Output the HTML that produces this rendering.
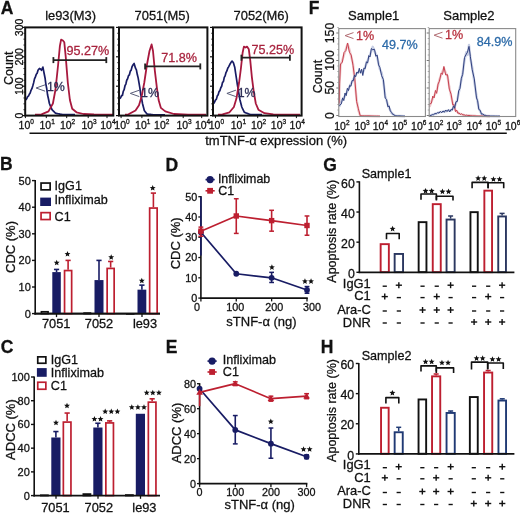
<!DOCTYPE html>
<html><head><meta charset="utf-8"><title>Figure</title>
<style>
html,body{margin:0;padding:0;background:#fff;width:520px;height:514px;overflow:hidden;}
svg{display:block;font-family:"Liberation Sans", sans-serif;will-change:transform;}
text{stroke-width:0.28px;}
</style></head>
<body>
<svg width="520" height="514" viewBox="0 0 520 514">
<rect width="520" height="514" fill="#fff"/>
<text x="0.80" y="13.60" font-size="17.5" text-anchor="start" fill="#111" stroke="#111" font-weight="bold">A</text>
<text x="-0.08" y="170.40" font-size="17.5" text-anchor="start" fill="#111" stroke="#111" font-weight="bold">B</text>
<text x="0.65" y="352.50" font-size="17.5" text-anchor="start" fill="#111" stroke="#111" font-weight="bold">C</text>
<text x="165.42" y="170.60" font-size="17.5" text-anchor="start" fill="#111" stroke="#111" font-weight="bold">D</text>
<text x="165.72" y="353.00" font-size="17.5" text-anchor="start" fill="#111" stroke="#111" font-weight="bold">E</text>
<text x="308.82" y="13.60" font-size="17.5" text-anchor="start" fill="#111" stroke="#111" font-weight="bold">F</text>
<text x="323.15" y="170.60" font-size="17.5" text-anchor="start" fill="#111" stroke="#111" font-weight="bold">G</text>
<text x="320.82" y="353.00" font-size="17.5" text-anchor="start" fill="#111" stroke="#111" font-weight="bold">H</text>
<text x="70.60" y="19.50" font-size="12.9" text-anchor="middle" fill="#111" stroke="#111">le93(M3)</text>
<text x="162.20" y="19.50" font-size="12.9" text-anchor="middle" fill="#111" stroke="#111">7051(M5)</text>
<text x="261.20" y="19.50" font-size="12.9" text-anchor="middle" fill="#111" stroke="#111">7052(M6)</text>
<line x1="22.20" y1="115.60" x2="25.20" y2="115.60" stroke="#111" stroke-width="1.2"/>
<line x1="23.40" y1="109.72" x2="25.20" y2="109.72" stroke="#111" stroke-width="0.8"/>
<line x1="23.40" y1="103.84" x2="25.20" y2="103.84" stroke="#111" stroke-width="0.8"/>
<line x1="23.40" y1="97.96" x2="25.20" y2="97.96" stroke="#111" stroke-width="0.8"/>
<line x1="23.40" y1="92.08" x2="25.20" y2="92.08" stroke="#111" stroke-width="0.8"/>
<line x1="22.20" y1="86.20" x2="25.20" y2="86.20" stroke="#111" stroke-width="1.2"/>
<line x1="23.40" y1="80.32" x2="25.20" y2="80.32" stroke="#111" stroke-width="0.8"/>
<line x1="23.40" y1="74.44" x2="25.20" y2="74.44" stroke="#111" stroke-width="0.8"/>
<line x1="23.40" y1="68.56" x2="25.20" y2="68.56" stroke="#111" stroke-width="0.8"/>
<line x1="23.40" y1="62.68" x2="25.20" y2="62.68" stroke="#111" stroke-width="0.8"/>
<line x1="22.20" y1="56.80" x2="25.20" y2="56.80" stroke="#111" stroke-width="1.2"/>
<line x1="23.40" y1="50.92" x2="25.20" y2="50.92" stroke="#111" stroke-width="0.8"/>
<line x1="23.40" y1="45.04" x2="25.20" y2="45.04" stroke="#111" stroke-width="0.8"/>
<line x1="23.40" y1="39.16" x2="25.20" y2="39.16" stroke="#111" stroke-width="0.8"/>
<line x1="23.40" y1="33.28" x2="25.20" y2="33.28" stroke="#111" stroke-width="0.8"/>
<line x1="22.20" y1="27.40" x2="25.20" y2="27.40" stroke="#111" stroke-width="1.2"/>
<line x1="116.00" y1="115.60" x2="119.00" y2="115.60" stroke="#111" stroke-width="1.2"/>
<line x1="117.20" y1="109.72" x2="119.00" y2="109.72" stroke="#111" stroke-width="0.8"/>
<line x1="117.20" y1="103.84" x2="119.00" y2="103.84" stroke="#111" stroke-width="0.8"/>
<line x1="117.20" y1="97.96" x2="119.00" y2="97.96" stroke="#111" stroke-width="0.8"/>
<line x1="117.20" y1="92.08" x2="119.00" y2="92.08" stroke="#111" stroke-width="0.8"/>
<line x1="116.00" y1="86.20" x2="119.00" y2="86.20" stroke="#111" stroke-width="1.2"/>
<line x1="117.20" y1="80.32" x2="119.00" y2="80.32" stroke="#111" stroke-width="0.8"/>
<line x1="117.20" y1="74.44" x2="119.00" y2="74.44" stroke="#111" stroke-width="0.8"/>
<line x1="117.20" y1="68.56" x2="119.00" y2="68.56" stroke="#111" stroke-width="0.8"/>
<line x1="117.20" y1="62.68" x2="119.00" y2="62.68" stroke="#111" stroke-width="0.8"/>
<line x1="116.00" y1="56.80" x2="119.00" y2="56.80" stroke="#111" stroke-width="1.2"/>
<line x1="117.20" y1="50.92" x2="119.00" y2="50.92" stroke="#111" stroke-width="0.8"/>
<line x1="117.20" y1="45.04" x2="119.00" y2="45.04" stroke="#111" stroke-width="0.8"/>
<line x1="117.20" y1="39.16" x2="119.00" y2="39.16" stroke="#111" stroke-width="0.8"/>
<line x1="117.20" y1="33.28" x2="119.00" y2="33.28" stroke="#111" stroke-width="0.8"/>
<line x1="116.00" y1="27.40" x2="119.00" y2="27.40" stroke="#111" stroke-width="1.2"/>
<line x1="210.00" y1="115.60" x2="213.00" y2="115.60" stroke="#111" stroke-width="1.2"/>
<line x1="211.20" y1="109.72" x2="213.00" y2="109.72" stroke="#111" stroke-width="0.8"/>
<line x1="211.20" y1="103.84" x2="213.00" y2="103.84" stroke="#111" stroke-width="0.8"/>
<line x1="211.20" y1="97.96" x2="213.00" y2="97.96" stroke="#111" stroke-width="0.8"/>
<line x1="211.20" y1="92.08" x2="213.00" y2="92.08" stroke="#111" stroke-width="0.8"/>
<line x1="210.00" y1="86.20" x2="213.00" y2="86.20" stroke="#111" stroke-width="1.2"/>
<line x1="211.20" y1="80.32" x2="213.00" y2="80.32" stroke="#111" stroke-width="0.8"/>
<line x1="211.20" y1="74.44" x2="213.00" y2="74.44" stroke="#111" stroke-width="0.8"/>
<line x1="211.20" y1="68.56" x2="213.00" y2="68.56" stroke="#111" stroke-width="0.8"/>
<line x1="211.20" y1="62.68" x2="213.00" y2="62.68" stroke="#111" stroke-width="0.8"/>
<line x1="210.00" y1="56.80" x2="213.00" y2="56.80" stroke="#111" stroke-width="1.2"/>
<line x1="211.20" y1="50.92" x2="213.00" y2="50.92" stroke="#111" stroke-width="0.8"/>
<line x1="211.20" y1="45.04" x2="213.00" y2="45.04" stroke="#111" stroke-width="0.8"/>
<line x1="211.20" y1="39.16" x2="213.00" y2="39.16" stroke="#111" stroke-width="0.8"/>
<line x1="211.20" y1="33.28" x2="213.00" y2="33.28" stroke="#111" stroke-width="0.8"/>
<line x1="210.00" y1="27.40" x2="213.00" y2="27.40" stroke="#111" stroke-width="1.2"/>
<text transform="translate(22.60,115.60) rotate(-90)" font-size="10.5" text-anchor="middle" fill="#111" stroke="#111">0</text>
<text transform="translate(22.60,86.20) rotate(-90)" font-size="10.5" text-anchor="middle" fill="#111" stroke="#111">100</text>
<text transform="translate(22.60,56.80) rotate(-90)" font-size="10.5" text-anchor="middle" fill="#111" stroke="#111">200</text>
<text transform="translate(22.60,27.40) rotate(-90)" font-size="10.5" text-anchor="middle" fill="#111" stroke="#111">300</text>
<text transform="translate(13.00,68.30) rotate(-90)" font-size="12.5" text-anchor="middle" fill="#111" stroke="#111">Count</text>
<polyline points="25.75,100.00 26.64,98.84 27.52,96.81 28.41,96.17 29.30,94.32 30.16,92.93 31.02,90.35 31.89,88.66 32.75,85.97 33.62,82.89 34.50,78.94 35.40,76.88 36.30,74.22 37.15,73.19 38.00,70.19 39.40,68.40 40.50,69.04 41.50,70.25 42.90,67.08 44.10,73.26 45.00,77.72 45.90,84.34 46.75,88.78 47.60,95.06 48.50,99.02 49.40,103.50 50.27,105.57 51.13,107.63 52.00,109.70 52.88,110.58 53.75,111.45 54.62,112.33 55.50,113.20 56.38,113.38 57.25,113.55 58.12,113.72 59.00,113.90 59.88,114.08 60.75,114.25 61.62,114.42 62.50,114.60 63.33,114.60 64.17,114.60 65.00,114.60 65.83,114.60 66.67,114.60 67.50,114.60 68.33,114.60 69.17,114.60 70.00,114.60 70.83,114.60 71.67,114.60 72.50,114.60 73.33,114.60 74.17,114.60 75.00,114.60" fill="none" stroke="#181c64" stroke-width="1.7" stroke-linejoin="round"/>
<polyline points="119.75,98.76 120.63,97.77 121.52,95.67 122.40,95.49 123.27,91.35 124.13,89.72 125.00,85.72 125.87,84.03 126.73,80.27 127.60,78.72 128.50,75.72 129.40,74.82 130.30,71.15 131.17,70.09 132.03,66.74 132.90,65.05 134.10,63.47 135.50,68.18 136.40,69.81 137.30,74.54 138.15,77.89 139.00,82.85 139.90,88.05 140.80,94.82 141.65,98.73 142.50,103.50 143.40,107.00 144.30,110.50 145.17,111.67 146.03,112.83 146.90,114.00 147.77,114.11 148.64,114.23 149.51,114.34 150.39,114.46 151.26,114.57 152.13,114.69 153.00,114.80 153.80,114.80 154.60,114.80 155.40,114.80 156.20,114.80 157.00,114.80 157.80,114.80 158.60,114.80 159.40,114.80 160.20,114.80 161.00,114.80 161.80,114.80 162.60,114.80 163.40,114.80 164.20,114.80 165.00,114.80" fill="none" stroke="#181c64" stroke-width="1.7" stroke-linejoin="round"/>
<polyline points="213.75,103.50 214.64,101.75 215.53,100.00 216.41,99.11 217.30,95.88 218.18,94.79 219.05,91.59 219.93,90.58 220.80,87.75 221.67,86.28 222.53,82.43 223.40,81.59 224.27,77.45 225.13,75.89 226.00,72.54 226.87,70.96 227.73,68.26 228.60,66.86 229.75,64.54 230.90,62.59 232.10,61.05 233.40,62.71 234.80,67.55 235.65,73.30 236.50,78.86 237.40,84.79 238.30,90.07 239.15,95.22 240.00,100.00 240.90,103.50 241.80,107.00 242.67,108.77 243.53,110.53 244.40,112.30 245.27,112.63 246.14,112.96 247.01,113.29 247.89,113.61 248.76,113.94 249.63,114.27 250.50,114.60 251.32,114.60 252.14,114.60 252.96,114.60 253.79,114.60 254.61,114.60 255.43,114.60 256.25,114.60 257.07,114.60 257.89,114.60 258.71,114.60 259.54,114.60 260.36,114.60 261.18,114.60 262.00,114.60" fill="none" stroke="#181c64" stroke-width="1.7" stroke-linejoin="round"/>
<polyline points="35.00,114.60 41.50,114.30 48.50,111.40 52.90,103.50 55.50,89.50 58.10,65.00 59.90,45.80 61.10,39.60 62.90,40.50 64.30,42.30 65.70,56.30 67.80,82.50 69.90,100.00 72.20,108.80 76.50,112.30 83.50,114.00 94.00,114.40 113.00,114.60" fill="none" stroke="#a8193e" stroke-width="1.8" stroke-linejoin="round"/>
<polyline points="125.00,114.60 128.50,114.30 135.50,110.50 139.00,105.30 141.60,96.50 144.30,82.50 146.90,65.00 149.50,51.00 151.60,44.40 153.00,51.00 154.80,70.30 156.90,87.80 158.60,100.00 160.90,107.90 165.30,111.40 174.00,114.00 188.00,114.60 206.00,114.60" fill="none" stroke="#a8193e" stroke-width="1.8" stroke-linejoin="round"/>
<polyline points="218.00,114.60 222.50,114.30 229.50,112.30 233.90,107.00 236.50,98.30 239.10,82.50 240.90,68.50 242.60,52.80 243.90,46.60 245.60,47.50 247.00,46.60 248.80,49.30 250.20,59.80 251.90,77.30 253.70,91.30 255.80,103.50 258.40,109.70 264.50,113.20 273.30,114.40 282.00,114.60 300.00,114.60" fill="none" stroke="#a8193e" stroke-width="1.8" stroke-linejoin="round"/>
<rect x="25.20" y="27.40" width="88.10" height="88.20" fill="none" stroke="#111" stroke-width="2"/>
<rect x="119.00" y="27.40" width="88.40" height="88.20" fill="none" stroke="#111" stroke-width="2"/>
<rect x="213.00" y="27.40" width="88.60" height="88.20" fill="none" stroke="#111" stroke-width="2"/>
<line x1="53.40" y1="60.10" x2="106.30" y2="60.10" stroke="#222" stroke-width="1.8"/>
<line x1="53.40" y1="57.10" x2="53.40" y2="63.10" stroke="#222" stroke-width="1.8"/>
<line x1="106.30" y1="57.10" x2="106.30" y2="63.10" stroke="#222" stroke-width="1.8"/>
<line x1="145.10" y1="66.40" x2="200.30" y2="66.40" stroke="#222" stroke-width="1.8"/>
<line x1="145.10" y1="63.40" x2="145.10" y2="69.40" stroke="#222" stroke-width="1.8"/>
<line x1="200.30" y1="63.40" x2="200.30" y2="69.40" stroke="#222" stroke-width="1.8"/>
<line x1="241.40" y1="57.70" x2="289.90" y2="57.70" stroke="#222" stroke-width="1.8"/>
<line x1="241.40" y1="54.70" x2="241.40" y2="60.70" stroke="#222" stroke-width="1.8"/>
<line x1="289.90" y1="54.70" x2="289.90" y2="60.70" stroke="#222" stroke-width="1.8"/>
<text x="66.60" y="55.40" font-size="12.6" text-anchor="start" fill="#a8233e" stroke="#a8233e">95.27%</text>
<text x="161.20" y="62.40" font-size="12.6" text-anchor="start" fill="#a8233e" stroke="#a8233e">71.8%</text>
<text x="251.60" y="54.20" font-size="12.6" text-anchor="start" fill="#a8233e" stroke="#a8233e">75.25%</text>
<polyline points="45.10,84.80 36.10,88.00 45.10,91.20" fill="none" stroke="#5a5e7a" stroke-width="1.0" stroke-linejoin="round" stroke-linejoin="miter"/>
<text x="46.90" y="91.30" font-size="12.4" text-anchor="start" fill="#2b2d55" stroke="#2b2d55">1%</text>
<polyline points="139.30,90.20 130.30,93.40 139.30,96.60" fill="none" stroke="#5a5e7a" stroke-width="1.0" stroke-linejoin="round" stroke-linejoin="miter"/>
<text x="141.10" y="96.70" font-size="12.4" text-anchor="start" fill="#2b2d55" stroke="#2b2d55">1%</text>
<polyline points="235.90,90.20 226.90,93.40 235.90,96.60" fill="none" stroke="#5a5e7a" stroke-width="1.0" stroke-linejoin="round" stroke-linejoin="miter"/>
<text x="237.70" y="96.70" font-size="12.4" text-anchor="start" fill="#2b2d55" stroke="#2b2d55">1%</text>
<text x="18.60" y="128.60" font-size="10.5" fill="#111" stroke="#111">10<tspan font-size="6.51" dy="-4.41">0</tspan></text>
<text x="39.50" y="128.60" font-size="10.5" fill="#111" stroke="#111">10<tspan font-size="6.51" dy="-4.41">1</tspan></text>
<text x="59.90" y="128.60" font-size="10.5" fill="#111" stroke="#111">10<tspan font-size="6.51" dy="-4.41">2</tspan></text>
<text x="81.40" y="128.60" font-size="10.5" fill="#111" stroke="#111">10<tspan font-size="6.51" dy="-4.41">3</tspan></text>
<text x="100.20" y="128.60" font-size="10.5" fill="#111" stroke="#111">10<tspan font-size="6.51" dy="-4.41">4</tspan></text>
<text x="114.30" y="128.60" font-size="10.5" fill="#111" stroke="#111">10<tspan font-size="6.51" dy="-4.41">0</tspan></text>
<text x="135.10" y="128.60" font-size="10.5" fill="#111" stroke="#111">10<tspan font-size="6.51" dy="-4.41">1</tspan></text>
<text x="154.10" y="128.60" font-size="10.5" fill="#111" stroke="#111">10<tspan font-size="6.51" dy="-4.41">2</tspan></text>
<text x="176.40" y="128.60" font-size="10.5" fill="#111" stroke="#111">10<tspan font-size="6.51" dy="-4.41">3</tspan></text>
<text x="194.90" y="128.60" font-size="10.5" fill="#111" stroke="#111">10<tspan font-size="6.51" dy="-4.41">4</tspan></text>
<text x="208.70" y="128.60" font-size="10.5" fill="#111" stroke="#111">10<tspan font-size="6.51" dy="-4.41">0</tspan></text>
<text x="230.70" y="128.60" font-size="10.5" fill="#111" stroke="#111">10<tspan font-size="6.51" dy="-4.41">1</tspan></text>
<text x="250.90" y="128.60" font-size="10.5" fill="#111" stroke="#111">10<tspan font-size="6.51" dy="-4.41">2</tspan></text>
<text x="270.80" y="128.60" font-size="10.5" fill="#111" stroke="#111">10<tspan font-size="6.51" dy="-4.41">3</tspan></text>
<text x="289.60" y="128.60" font-size="10.5" fill="#111" stroke="#111">10<tspan font-size="6.51" dy="-4.41">4</tspan></text>
<line x1="25.40" y1="115.60" x2="25.40" y2="118.10" stroke="#111" stroke-width="1"/>
<line x1="46.30" y1="115.60" x2="46.30" y2="118.10" stroke="#111" stroke-width="1"/>
<line x1="66.70" y1="115.60" x2="66.70" y2="118.10" stroke="#111" stroke-width="1"/>
<line x1="88.20" y1="115.60" x2="88.20" y2="118.10" stroke="#111" stroke-width="1"/>
<line x1="107.00" y1="115.60" x2="107.00" y2="118.10" stroke="#111" stroke-width="1"/>
<line x1="121.10" y1="115.60" x2="121.10" y2="118.10" stroke="#111" stroke-width="1"/>
<line x1="141.90" y1="115.60" x2="141.90" y2="118.10" stroke="#111" stroke-width="1"/>
<line x1="160.90" y1="115.60" x2="160.90" y2="118.10" stroke="#111" stroke-width="1"/>
<line x1="183.20" y1="115.60" x2="183.20" y2="118.10" stroke="#111" stroke-width="1"/>
<line x1="201.70" y1="115.60" x2="201.70" y2="118.10" stroke="#111" stroke-width="1"/>
<line x1="215.50" y1="115.60" x2="215.50" y2="118.10" stroke="#111" stroke-width="1"/>
<line x1="237.50" y1="115.60" x2="237.50" y2="118.10" stroke="#111" stroke-width="1"/>
<line x1="257.70" y1="115.60" x2="257.70" y2="118.10" stroke="#111" stroke-width="1"/>
<line x1="277.60" y1="115.60" x2="277.60" y2="118.10" stroke="#111" stroke-width="1"/>
<line x1="296.40" y1="115.60" x2="296.40" y2="118.10" stroke="#111" stroke-width="1"/>
<text x="373.70" y="20.20" font-size="13.0" text-anchor="middle" fill="#111" stroke="#111">Sample1</text>
<text x="468.90" y="20.20" font-size="13.0" text-anchor="middle" fill="#111" stroke="#111">Sample2</text>
<line x1="336.30" y1="115.50" x2="338.80" y2="115.50" stroke="#777" stroke-width="1"/>
<line x1="337.30" y1="110.00" x2="338.80" y2="110.00" stroke="#999" stroke-width="0.8"/>
<line x1="337.30" y1="104.50" x2="338.80" y2="104.50" stroke="#999" stroke-width="0.8"/>
<line x1="337.30" y1="99.00" x2="338.80" y2="99.00" stroke="#999" stroke-width="0.8"/>
<line x1="337.30" y1="93.50" x2="338.80" y2="93.50" stroke="#999" stroke-width="0.8"/>
<line x1="336.30" y1="88.00" x2="338.80" y2="88.00" stroke="#777" stroke-width="1"/>
<line x1="337.30" y1="82.50" x2="338.80" y2="82.50" stroke="#999" stroke-width="0.8"/>
<line x1="337.30" y1="77.00" x2="338.80" y2="77.00" stroke="#999" stroke-width="0.8"/>
<line x1="337.30" y1="71.50" x2="338.80" y2="71.50" stroke="#999" stroke-width="0.8"/>
<line x1="337.30" y1="66.00" x2="338.80" y2="66.00" stroke="#999" stroke-width="0.8"/>
<line x1="336.30" y1="60.50" x2="338.80" y2="60.50" stroke="#777" stroke-width="1"/>
<line x1="337.30" y1="55.00" x2="338.80" y2="55.00" stroke="#999" stroke-width="0.8"/>
<line x1="337.30" y1="49.50" x2="338.80" y2="49.50" stroke="#999" stroke-width="0.8"/>
<line x1="337.30" y1="44.00" x2="338.80" y2="44.00" stroke="#999" stroke-width="0.8"/>
<line x1="337.30" y1="38.50" x2="338.80" y2="38.50" stroke="#999" stroke-width="0.8"/>
<line x1="336.30" y1="33.00" x2="338.80" y2="33.00" stroke="#777" stroke-width="1"/>
<line x1="337.30" y1="27.50" x2="338.80" y2="27.50" stroke="#999" stroke-width="0.8"/>
<line x1="426.70" y1="115.50" x2="429.20" y2="115.50" stroke="#777" stroke-width="1"/>
<line x1="427.70" y1="110.00" x2="429.20" y2="110.00" stroke="#999" stroke-width="0.8"/>
<line x1="427.70" y1="104.50" x2="429.20" y2="104.50" stroke="#999" stroke-width="0.8"/>
<line x1="427.70" y1="99.00" x2="429.20" y2="99.00" stroke="#999" stroke-width="0.8"/>
<line x1="427.70" y1="93.50" x2="429.20" y2="93.50" stroke="#999" stroke-width="0.8"/>
<line x1="426.70" y1="88.00" x2="429.20" y2="88.00" stroke="#777" stroke-width="1"/>
<line x1="427.70" y1="82.50" x2="429.20" y2="82.50" stroke="#999" stroke-width="0.8"/>
<line x1="427.70" y1="77.00" x2="429.20" y2="77.00" stroke="#999" stroke-width="0.8"/>
<line x1="427.70" y1="71.50" x2="429.20" y2="71.50" stroke="#999" stroke-width="0.8"/>
<line x1="427.70" y1="66.00" x2="429.20" y2="66.00" stroke="#999" stroke-width="0.8"/>
<line x1="426.70" y1="60.50" x2="429.20" y2="60.50" stroke="#777" stroke-width="1"/>
<line x1="427.70" y1="55.00" x2="429.20" y2="55.00" stroke="#999" stroke-width="0.8"/>
<line x1="427.70" y1="49.50" x2="429.20" y2="49.50" stroke="#999" stroke-width="0.8"/>
<line x1="427.70" y1="44.00" x2="429.20" y2="44.00" stroke="#999" stroke-width="0.8"/>
<line x1="427.70" y1="38.50" x2="429.20" y2="38.50" stroke="#999" stroke-width="0.8"/>
<line x1="426.70" y1="33.00" x2="429.20" y2="33.00" stroke="#777" stroke-width="1"/>
<line x1="427.70" y1="27.50" x2="429.20" y2="27.50" stroke="#999" stroke-width="0.8"/>
<text transform="translate(334.20,115.50) rotate(-90)" font-size="12.2" text-anchor="middle" fill="#111" stroke="#111">0</text>
<text transform="translate(334.20,87.80) rotate(-90)" font-size="12.2" text-anchor="middle" fill="#111" stroke="#111">50</text>
<text transform="translate(334.20,60.50) rotate(-90)" font-size="12.2" text-anchor="middle" fill="#111" stroke="#111">100</text>
<text transform="translate(334.20,33.00) rotate(-90)" font-size="12.2" text-anchor="middle" fill="#111" stroke="#111">150</text>
<text transform="translate(321.50,76.50) rotate(-90)" font-size="12.5" text-anchor="middle" fill="#111" stroke="#111">Count</text>
<polyline points="339.20,105.00 339.60,81.70 340.50,65.60 342.30,60.20 344.00,54.80 345.80,49.50 347.60,44.10 349.40,49.50 351.20,56.60 353.00,63.80 354.80,81.70 356.60,99.60 358.40,110.30 360.20,115.70 380.00,116.20" fill="none" stroke="#d88890" stroke-width="2.4" stroke-linejoin="round" stroke-opacity="0.45"/>
<polyline points="339.20,103.49 339.60,83.81 340.50,63.83 342.30,62.43 344.00,52.53 345.80,50.68 347.60,43.02 349.40,52.18 351.20,55.04 353.00,65.31 354.80,78.71 356.60,101.57 358.40,108.77 360.20,115.76 361.30,115.67 362.40,115.79 363.50,115.73 364.60,115.86 365.70,115.81 366.80,115.90 367.90,115.87 369.00,115.93 370.10,115.94 371.20,115.98 372.30,116.01 373.40,116.03 374.50,116.08 375.60,116.07 376.70,116.15 377.80,116.10 378.90,116.21 380.00,116.20" fill="none" stroke="#c8404e" stroke-width="1.0" stroke-linejoin="round"/>
<polyline points="429.60,106.80 431.40,101.40 434.10,96.00 436.70,90.60 439.40,79.90 441.20,74.50 443.90,68.30 445.70,72.70 447.50,76.30 449.30,87.10 451.10,96.00 452.80,103.20 455.50,110.30 459.10,113.60 465.40,115.30 476.10,116.00 490.00,116.20" fill="none" stroke="#d88890" stroke-width="2.4" stroke-linejoin="round" stroke-opacity="0.45"/>
<polyline points="429.60,104.18 431.40,103.22 432.75,96.09 434.10,97.92 435.40,90.43 436.70,93.36 438.05,84.01 439.40,81.22 441.20,73.03 442.55,74.33 443.90,66.40 445.70,74.97 447.50,74.66 449.30,89.14 451.10,94.20 452.80,104.93 454.15,104.72 455.50,111.55 456.70,110.11 457.90,113.33 459.10,112.91 460.36,114.50 461.62,113.77 462.88,114.95 464.14,114.82 465.40,115.49 466.59,115.20 467.78,115.61 468.97,115.43 470.16,115.71 471.34,115.64 472.53,115.83 473.72,115.81 474.91,115.93 476.10,116.00 477.26,116.01 478.42,116.04 479.58,116.04 480.73,116.08 481.89,116.07 483.05,116.11 484.21,116.10 485.37,116.17 486.52,116.11 487.68,116.19 488.84,116.14 490.00,116.20" fill="none" stroke="#c8404e" stroke-width="1.0" stroke-linejoin="round"/>
<polyline points="339.20,106.80 341.40,101.40 345.00,96.00 348.50,88.90 352.10,81.70 355.70,74.50 359.30,71.00 362.80,72.70 366.40,63.80 370.00,54.80 372.70,46.80 374.50,51.30 377.20,57.50 379.90,69.20 381.60,72.70 383.40,81.70 385.20,96.00 387.90,105.00 391.50,113.00 395.10,115.70 405.00,116.20" fill="none" stroke="#8090c0" stroke-width="2.4" stroke-linejoin="round" stroke-opacity="0.45"/>
<polyline points="339.20,105.75 341.40,103.85 342.60,97.90 343.80,100.57 345.00,93.04 346.17,95.67 347.33,88.27 348.50,90.55 349.70,85.30 350.90,86.32 352.10,80.59 353.30,80.73 354.50,75.05 355.70,76.74 356.90,71.98 358.10,73.30 359.30,68.26 360.47,73.23 361.63,69.21 362.80,75.50 364.00,67.95 365.20,68.71 366.40,61.74 367.60,63.11 368.80,55.59 370.00,56.94 371.35,48.54 372.70,49.68 374.50,49.26 375.85,56.29 377.20,55.05 378.55,64.86 379.90,67.56 381.60,75.66 383.40,79.63 385.20,98.12 386.55,99.43 387.90,106.86 389.10,105.85 390.30,110.95 391.50,112.32 392.70,114.38 393.90,114.66 395.10,115.77 396.34,115.72 397.58,115.87 398.81,115.87 400.05,115.96 401.29,116.02 402.52,116.07 403.76,116.15 405.00,116.20" fill="none" stroke="#30407f" stroke-width="1.0" stroke-linejoin="round"/>
<polyline points="429.60,115.70 435.00,113.90 440.30,112.10 445.70,111.20 451.10,110.30 454.60,106.80 457.30,99.60 460.00,87.10 462.70,72.70 464.50,60.20 466.30,52.20 467.50,54.80 469.00,45.00 470.40,58.40 472.20,67.40 474.30,81.70 476.50,96.00 478.80,108.50 481.50,113.90 486.90,116.00 500.00,116.20" fill="none" stroke="#8090c0" stroke-width="2.4" stroke-linejoin="round" stroke-opacity="0.45"/>
<polyline points="429.60,115.63 430.95,115.47 432.30,114.62 433.65,114.67 435.00,113.44 436.32,113.88 437.65,112.47 438.98,113.12 440.30,111.41 441.65,112.79 443.00,110.94 444.35,112.24 445.70,109.97 447.05,111.53 448.40,109.62 449.75,111.88 451.10,109.36 452.27,110.15 453.43,105.86 454.60,108.19 455.95,101.78 457.30,101.50 458.65,90.94 460.00,88.35 461.35,78.22 462.70,74.40 464.50,57.52 466.30,54.10 467.50,52.08 469.00,46.38 470.40,56.69 472.20,69.72 474.30,78.92 476.50,97.93 477.65,100.76 478.80,109.46 480.15,110.20 481.50,114.20 482.85,114.01 484.20,115.23 485.55,115.40 486.90,116.00 488.09,116.02 489.28,116.03 490.47,116.07 491.66,116.06 492.85,116.10 494.05,116.09 495.24,116.16 496.43,116.12 497.62,116.19 498.81,116.15 500.00,116.20" fill="none" stroke="#30407f" stroke-width="1.0" stroke-linejoin="round"/>
<rect x="338.80" y="28.60" width="86.60" height="87.90" fill="none" stroke="#8a8a8a" stroke-width="1.1"/>
<rect x="429.20" y="28.60" width="86.50" height="87.90" fill="none" stroke="#8a8a8a" stroke-width="1.1"/>
<polyline points="353.50,32.60 345.10,35.60 353.50,38.60" fill="none" stroke="#b06a70" stroke-width="1.0" stroke-linejoin="round" stroke-linejoin="miter"/>
<text x="356.00" y="39.50" font-size="12.6" text-anchor="start" fill="#b8323f" stroke="#b8323f">1%</text>
<polyline points="442.50,32.20 434.10,35.20 442.50,38.20" fill="none" stroke="#b06a70" stroke-width="1.0" stroke-linejoin="round" stroke-linejoin="miter"/>
<text x="445.00" y="39.10" font-size="12.6" text-anchor="start" fill="#b8323f" stroke="#b8323f">1%</text>
<text x="382.00" y="48.60" font-size="12.6" text-anchor="start" fill="#2c6aa8" stroke="#2c6aa8">49.7%</text>
<text x="476.80" y="46.00" font-size="12.6" text-anchor="start" fill="#2c6aa8" stroke="#2c6aa8">84.9%</text>
<text x="334.20" y="129.60" font-size="10.5" fill="#111" stroke="#111">10<tspan font-size="6.51" dy="-4.41">2</tspan></text>
<text x="354.40" y="129.60" font-size="10.5" fill="#111" stroke="#111">10<tspan font-size="6.51" dy="-4.41">3</tspan></text>
<text x="372.70" y="129.60" font-size="10.5" fill="#111" stroke="#111">10<tspan font-size="6.51" dy="-4.41">4</tspan></text>
<text x="391.90" y="129.60" font-size="10.5" fill="#111" stroke="#111">10<tspan font-size="6.51" dy="-4.41">5</tspan></text>
<text x="411.10" y="129.60" font-size="10.5" fill="#111" stroke="#111">10<tspan font-size="6.51" dy="-4.41">6</tspan></text>
<text x="428.10" y="129.60" font-size="10.5" fill="#111" stroke="#111">10<tspan font-size="6.51" dy="-4.41">2</tspan></text>
<text x="446.30" y="129.60" font-size="10.5" fill="#111" stroke="#111">10<tspan font-size="6.51" dy="-4.41">3</tspan></text>
<text x="466.50" y="129.60" font-size="10.5" fill="#111" stroke="#111">10<tspan font-size="6.51" dy="-4.41">4</tspan></text>
<text x="485.70" y="129.60" font-size="10.5" fill="#111" stroke="#111">10<tspan font-size="6.51" dy="-4.41">5</tspan></text>
<text x="505.00" y="129.60" font-size="10.5" fill="#111" stroke="#111">10<tspan font-size="6.51" dy="-4.41">6</tspan></text>
<line x1="29.50" y1="133.20" x2="506.80" y2="133.20" stroke="#111" stroke-width="1.6"/>
<text x="205.20" y="145.40" font-size="13.0" text-anchor="start" fill="#111" stroke="#111">tmTNF-α expression (%)</text>
<line x1="35.20" y1="314.40" x2="35.20" y2="180.00" stroke="#111" stroke-width="1.6"/>
<line x1="32.00" y1="313.60" x2="35.20" y2="313.60" stroke="#111" stroke-width="1.4"/>
<text x="30.80" y="317.56" font-size="11" text-anchor="end" fill="#111" stroke="#111">0</text>
<line x1="32.00" y1="287.00" x2="35.20" y2="287.00" stroke="#111" stroke-width="1.4"/>
<text x="30.80" y="290.96" font-size="11" text-anchor="end" fill="#111" stroke="#111">10</text>
<line x1="32.00" y1="260.40" x2="35.20" y2="260.40" stroke="#111" stroke-width="1.4"/>
<text x="30.80" y="264.36" font-size="11" text-anchor="end" fill="#111" stroke="#111">20</text>
<line x1="32.00" y1="233.80" x2="35.20" y2="233.80" stroke="#111" stroke-width="1.4"/>
<text x="30.80" y="237.76" font-size="11" text-anchor="end" fill="#111" stroke="#111">30</text>
<line x1="32.00" y1="207.20" x2="35.20" y2="207.20" stroke="#111" stroke-width="1.4"/>
<text x="30.80" y="211.16" font-size="11" text-anchor="end" fill="#111" stroke="#111">40</text>
<line x1="32.00" y1="180.60" x2="35.20" y2="180.60" stroke="#111" stroke-width="1.4"/>
<text x="30.80" y="184.56" font-size="11" text-anchor="end" fill="#111" stroke="#111">50</text>
<line x1="34.40" y1="313.60" x2="160.00" y2="313.60" stroke="#111" stroke-width="1.6"/>
<line x1="56.50" y1="313.60" x2="56.50" y2="317.10" stroke="#111" stroke-width="1.3"/>
<line x1="99.00" y1="313.60" x2="99.00" y2="317.10" stroke="#111" stroke-width="1.3"/>
<line x1="142.00" y1="313.60" x2="142.00" y2="317.10" stroke="#111" stroke-width="1.3"/>
<rect x="41.40" y="311.74" width="6.70" height="1.86" fill="#fff" stroke="#111" stroke-width="1.6"/>
<line x1="56.55" y1="272.10" x2="56.55" y2="269.44" stroke="#181c64" stroke-width="1.6"/>
<line x1="53.95" y1="269.44" x2="59.15" y2="269.44" stroke="#181c64" stroke-width="1.6"/>
<rect x="52.30" y="272.10" width="8.50" height="41.50" fill="#181c64"/>
<line x1="68.10" y1="269.71" x2="68.10" y2="260.40" stroke="#bd1f30" stroke-width="1.6"/>
<line x1="65.50" y1="260.40" x2="70.70" y2="260.40" stroke="#bd1f30" stroke-width="1.6"/>
<rect x="64.55" y="270.56" width="7.10" height="42.99" fill="#fff" stroke="#bd1f30" stroke-width="1.7"/>
<rect x="84.10" y="313.07" width="6.40" height="0.53" fill="#fff" stroke="#111" stroke-width="1.6"/>
<line x1="99.00" y1="280.08" x2="99.00" y2="260.40" stroke="#181c64" stroke-width="1.6"/>
<line x1="96.40" y1="260.40" x2="101.60" y2="260.40" stroke="#181c64" stroke-width="1.6"/>
<rect x="94.50" y="280.08" width="9.00" height="33.52" fill="#181c64"/>
<line x1="110.65" y1="267.58" x2="110.65" y2="261.46" stroke="#bd1f30" stroke-width="1.6"/>
<line x1="108.05" y1="261.46" x2="113.25" y2="261.46" stroke="#bd1f30" stroke-width="1.6"/>
<rect x="107.15" y="268.43" width="7.00" height="45.12" fill="#fff" stroke="#bd1f30" stroke-width="1.7"/>
<rect x="126.80" y="313.87" width="6.90" height="0.10" fill="#fff" stroke="#111" stroke-width="1.6"/>
<line x1="141.90" y1="289.66" x2="141.90" y2="285.14" stroke="#181c64" stroke-width="1.6"/>
<line x1="139.30" y1="285.14" x2="144.50" y2="285.14" stroke="#181c64" stroke-width="1.6"/>
<rect x="137.50" y="289.66" width="8.80" height="23.94" fill="#181c64"/>
<line x1="153.40" y1="207.20" x2="153.40" y2="193.10" stroke="#bd1f30" stroke-width="1.6"/>
<line x1="150.80" y1="193.10" x2="156.00" y2="193.10" stroke="#bd1f30" stroke-width="1.6"/>
<rect x="149.65" y="208.05" width="7.50" height="105.50" fill="#fff" stroke="#bd1f30" stroke-width="1.7"/>
<line x1="34.40" y1="313.60" x2="160.00" y2="313.60" stroke="#111" stroke-width="1.6"/>
<polygon points="56.70,259.70 57.52,261.67 59.65,261.84 58.03,263.23 58.52,265.31 56.70,264.19 54.88,265.31 55.37,263.23 53.75,261.84 55.88,261.67" fill="#111"/>
<polygon points="67.50,251.00 68.32,252.97 70.45,253.14 68.83,254.53 69.32,256.61 67.50,255.50 65.68,256.61 66.17,254.53 64.55,253.14 66.68,252.97" fill="#111"/>
<polygon points="111.20,254.20 112.02,256.17 114.15,256.34 112.53,257.73 113.02,259.81 111.20,258.69 109.38,259.81 109.87,257.73 108.25,256.34 110.38,256.17" fill="#111"/>
<polygon points="141.80,277.70 142.62,279.67 144.75,279.84 143.13,281.23 143.62,283.31 141.80,282.19 139.98,283.31 140.47,281.23 138.85,279.84 140.98,279.67" fill="#111"/>
<polygon points="152.70,185.00 153.52,186.97 155.65,187.14 154.03,188.53 154.52,190.61 152.70,189.50 150.88,190.61 151.37,188.53 149.75,187.14 151.88,186.97" fill="#111"/>
<text x="56.20" y="328.00" font-size="12.8" text-anchor="middle" fill="#111" stroke="#111">7051</text>
<text x="99.00" y="328.00" font-size="12.8" text-anchor="middle" fill="#111" stroke="#111">7052</text>
<text x="145.00" y="328.00" font-size="12.8" text-anchor="middle" fill="#111" stroke="#111">le93</text>
<text transform="translate(14.60,247.00) rotate(-90)" font-size="13" text-anchor="middle" fill="#111" stroke="#111">CDC (%)</text>
<rect x="41.05" y="183.05" width="9.10" height="6.80" fill="#fff" stroke="#111" stroke-width="1.7"/>
<rect x="40.20" y="197.60" width="10.80" height="8.40" fill="#181c64"/>
<rect x="41.05" y="212.65" width="9.10" height="6.90" fill="#fff" stroke="#bd1f30" stroke-width="1.7"/>
<text x="54.60" y="190.40" font-size="12.6" text-anchor="start" fill="#111" stroke="#111">IgG1</text>
<text x="54.60" y="204.30" font-size="12.6" text-anchor="start" fill="#111" stroke="#111">Infliximab</text>
<text x="54.60" y="220.80" font-size="12.6" text-anchor="start" fill="#111" stroke="#111">C1</text>
<line x1="34.20" y1="496.40" x2="34.20" y2="376.40" stroke="#111" stroke-width="1.6"/>
<line x1="31.00" y1="495.60" x2="34.20" y2="495.60" stroke="#111" stroke-width="1.4"/>
<text x="29.80" y="499.56" font-size="11" text-anchor="end" fill="#111" stroke="#111">0</text>
<line x1="31.00" y1="471.88" x2="34.20" y2="471.88" stroke="#111" stroke-width="1.4"/>
<text x="29.80" y="475.84" font-size="11" text-anchor="end" fill="#111" stroke="#111">20</text>
<line x1="31.00" y1="448.16" x2="34.20" y2="448.16" stroke="#111" stroke-width="1.4"/>
<text x="29.80" y="452.12" font-size="11" text-anchor="end" fill="#111" stroke="#111">40</text>
<line x1="31.00" y1="424.44" x2="34.20" y2="424.44" stroke="#111" stroke-width="1.4"/>
<text x="29.80" y="428.40" font-size="11" text-anchor="end" fill="#111" stroke="#111">60</text>
<line x1="31.00" y1="400.72" x2="34.20" y2="400.72" stroke="#111" stroke-width="1.4"/>
<text x="29.80" y="404.68" font-size="11" text-anchor="end" fill="#111" stroke="#111">80</text>
<line x1="31.00" y1="377.00" x2="34.20" y2="377.00" stroke="#111" stroke-width="1.4"/>
<text x="29.80" y="380.96" font-size="11" text-anchor="end" fill="#111" stroke="#111">100</text>
<rect x="40.80" y="495.21" width="7.20" height="0.39" fill="#fff" stroke="#111" stroke-width="1.6"/>
<line x1="55.90" y1="437.49" x2="55.90" y2="431.56" stroke="#181c64" stroke-width="1.6"/>
<line x1="53.30" y1="431.56" x2="58.50" y2="431.56" stroke="#181c64" stroke-width="1.6"/>
<rect x="51.30" y="437.49" width="9.20" height="58.11" fill="#181c64"/>
<line x1="67.15" y1="421.24" x2="67.15" y2="413.05" stroke="#bd1f30" stroke-width="1.6"/>
<line x1="64.55" y1="413.05" x2="69.75" y2="413.05" stroke="#bd1f30" stroke-width="1.6"/>
<rect x="63.35" y="422.09" width="7.60" height="73.46" fill="#fff" stroke="#bd1f30" stroke-width="1.7"/>
<rect x="83.30" y="494.03" width="7.20" height="1.57" fill="#fff" stroke="#111" stroke-width="1.6"/>
<line x1="97.90" y1="427.52" x2="97.90" y2="423.25" stroke="#181c64" stroke-width="1.6"/>
<line x1="95.30" y1="423.25" x2="100.50" y2="423.25" stroke="#181c64" stroke-width="1.6"/>
<rect x="93.30" y="427.52" width="9.20" height="68.08" fill="#181c64"/>
<line x1="109.65" y1="422.07" x2="109.65" y2="420.88" stroke="#bd1f30" stroke-width="1.6"/>
<line x1="107.05" y1="420.88" x2="112.25" y2="420.88" stroke="#bd1f30" stroke-width="1.6"/>
<rect x="105.85" y="422.92" width="7.60" height="72.63" fill="#fff" stroke="#bd1f30" stroke-width="1.7"/>
<rect x="125.80" y="494.98" width="7.20" height="0.62" fill="#fff" stroke="#111" stroke-width="1.6"/>
<rect x="135.80" y="413.77" width="9.20" height="81.83" fill="#181c64"/>
<line x1="152.15" y1="401.31" x2="152.15" y2="398.82" stroke="#bd1f30" stroke-width="1.6"/>
<line x1="149.55" y1="398.82" x2="154.75" y2="398.82" stroke="#bd1f30" stroke-width="1.6"/>
<rect x="148.35" y="402.16" width="7.60" height="93.39" fill="#fff" stroke="#bd1f30" stroke-width="1.7"/>
<line x1="33.40" y1="495.60" x2="160.00" y2="495.60" stroke="#111" stroke-width="1.6"/>
<line x1="56.00" y1="495.60" x2="56.00" y2="498.80" stroke="#111" stroke-width="1.3"/>
<line x1="98.00" y1="495.60" x2="98.00" y2="498.80" stroke="#111" stroke-width="1.3"/>
<line x1="140.50" y1="495.60" x2="140.50" y2="498.80" stroke="#111" stroke-width="1.3"/>
<polygon points="56.00,419.70 56.82,421.67 58.95,421.84 57.33,423.23 57.82,425.31 56.00,424.19 54.18,425.31 54.67,423.23 53.05,421.84 55.18,421.67" fill="#111"/>
<polygon points="67.00,402.70 67.82,404.67 69.95,404.84 68.33,406.23 68.82,408.31 67.00,407.19 65.18,408.31 65.67,406.23 64.05,404.84 66.18,404.67" fill="#111"/>
<polygon points="94.45,416.00 95.27,417.97 97.40,418.14 95.78,419.53 96.27,421.61 94.45,420.50 92.63,421.61 93.12,419.53 91.50,418.14 93.63,417.97" fill="#111"/>
<polygon points="100.55,416.00 101.37,417.97 103.50,418.14 101.88,419.53 102.37,421.61 100.55,420.50 98.73,421.61 99.22,419.53 97.60,418.14 99.73,417.97" fill="#111"/>
<polygon points="105.20,408.50 106.02,410.47 108.15,410.64 106.53,412.03 107.02,414.11 105.20,413.00 103.38,414.11 103.87,412.03 102.25,410.64 104.38,410.47" fill="#111"/>
<polygon points="111.30,408.50 112.12,410.47 114.25,410.64 112.63,412.03 113.12,414.11 111.30,413.00 109.48,414.11 109.97,412.03 108.35,410.64 110.48,410.47" fill="#111"/>
<polygon points="117.40,408.50 118.22,410.47 120.35,410.64 118.73,412.03 119.22,414.11 117.40,413.00 115.58,414.11 116.07,412.03 114.45,410.64 116.58,410.47" fill="#111"/>
<polygon points="131.80,404.20 132.62,406.17 134.75,406.34 133.13,407.73 133.62,409.81 131.80,408.69 129.98,409.81 130.47,407.73 128.85,406.34 130.98,406.17" fill="#111"/>
<polygon points="137.90,404.20 138.72,406.17 140.85,406.34 139.23,407.73 139.72,409.81 137.90,408.69 136.08,409.81 136.57,407.73 134.95,406.34 137.08,406.17" fill="#111"/>
<polygon points="144.00,404.20 144.82,406.17 146.95,406.34 145.33,407.73 145.82,409.81 144.00,408.69 142.18,409.81 142.67,407.73 141.05,406.34 143.18,406.17" fill="#111"/>
<polygon points="146.70,389.70 147.52,391.67 149.65,391.84 148.03,393.23 148.52,395.31 146.70,394.19 144.88,395.31 145.37,393.23 143.75,391.84 145.88,391.67" fill="#111"/>
<polygon points="152.80,389.70 153.62,391.67 155.75,391.84 154.13,393.23 154.62,395.31 152.80,394.19 150.98,395.31 151.47,393.23 149.85,391.84 151.98,391.67" fill="#111"/>
<polygon points="158.90,389.70 159.72,391.67 161.85,391.84 160.23,393.23 160.72,395.31 158.90,394.19 157.08,395.31 157.57,393.23 155.95,391.84 158.08,391.67" fill="#111"/>
<text x="55.40" y="512.00" font-size="12.8" text-anchor="middle" fill="#111" stroke="#111">7051</text>
<text x="98.80" y="512.00" font-size="12.8" text-anchor="middle" fill="#111" stroke="#111">7052</text>
<text x="144.40" y="512.00" font-size="12.8" text-anchor="middle" fill="#111" stroke="#111">le93</text>
<text transform="translate(14.60,429.60) rotate(-90)" font-size="13" text-anchor="middle" fill="#111" stroke="#111">ADCC (%)</text>
<rect x="37.75" y="356.85" width="8.10" height="6.40" fill="#fff" stroke="#111" stroke-width="1.7"/>
<rect x="36.90" y="368.10" width="9.80" height="8.70" fill="#181c64"/>
<rect x="37.75" y="382.25" width="8.10" height="7.00" fill="#fff" stroke="#bd1f30" stroke-width="1.7"/>
<text x="50.80" y="364.10" font-size="12.6" text-anchor="start" fill="#111" stroke="#111">IgG1</text>
<text x="50.80" y="376.80" font-size="12.6" text-anchor="start" fill="#111" stroke="#111">Infliximab</text>
<text x="50.80" y="389.50" font-size="12.6" text-anchor="start" fill="#111" stroke="#111">C1</text>
<line x1="200.90" y1="298.90" x2="200.90" y2="196.10" stroke="#111" stroke-width="1.6"/>
<line x1="200.10" y1="298.10" x2="307.80" y2="298.10" stroke="#111" stroke-width="1.6"/>
<line x1="198.30" y1="298.10" x2="200.90" y2="298.10" stroke="#111" stroke-width="1.3"/>
<text x="197.30" y="302.00" font-size="10.8" text-anchor="end" fill="#111" stroke="#111">0</text>
<line x1="198.30" y1="277.82" x2="200.90" y2="277.82" stroke="#111" stroke-width="1.3"/>
<text x="197.30" y="281.72" font-size="10.8" text-anchor="end" fill="#111" stroke="#111">10</text>
<line x1="198.30" y1="257.54" x2="200.90" y2="257.54" stroke="#111" stroke-width="1.3"/>
<text x="197.30" y="261.44" font-size="10.8" text-anchor="end" fill="#111" stroke="#111">20</text>
<line x1="198.30" y1="237.26" x2="200.90" y2="237.26" stroke="#111" stroke-width="1.3"/>
<text x="197.30" y="241.16" font-size="10.8" text-anchor="end" fill="#111" stroke="#111">30</text>
<line x1="198.30" y1="216.98" x2="200.90" y2="216.98" stroke="#111" stroke-width="1.3"/>
<text x="197.30" y="220.88" font-size="10.8" text-anchor="end" fill="#111" stroke="#111">40</text>
<line x1="198.30" y1="196.70" x2="200.90" y2="196.70" stroke="#111" stroke-width="1.3"/>
<text x="197.30" y="200.60" font-size="10.8" text-anchor="end" fill="#111" stroke="#111">50</text>
<line x1="200.90" y1="298.10" x2="200.90" y2="301.40" stroke="#111" stroke-width="1.3"/>
<text x="197.00" y="311.20" font-size="10.8" text-anchor="middle" fill="#111" stroke="#111">0</text>
<line x1="236.27" y1="298.10" x2="236.27" y2="301.40" stroke="#111" stroke-width="1.3"/>
<text x="235.30" y="311.20" font-size="10.8" text-anchor="middle" fill="#111" stroke="#111">100</text>
<line x1="271.63" y1="298.10" x2="271.63" y2="301.40" stroke="#111" stroke-width="1.3"/>
<text x="274.20" y="311.20" font-size="10.8" text-anchor="middle" fill="#111" stroke="#111">200</text>
<line x1="307.00" y1="298.10" x2="307.00" y2="301.40" stroke="#111" stroke-width="1.3"/>
<text x="311.90" y="311.20" font-size="10.8" text-anchor="middle" fill="#111" stroke="#111">300</text>
<line x1="200.90" y1="255.51" x2="200.90" y2="196.70" stroke="#181c64" stroke-width="1.6"/>
<polyline points="200.90,232.19 236.27,273.76 271.63,277.82 307.00,289.99" fill="none" stroke="#181c64" stroke-width="1.7" stroke-linejoin="round"/>
<line x1="271.63" y1="282.48" x2="271.63" y2="272.34" stroke="#181c64" stroke-width="1.6"/>
<line x1="269.23" y1="282.48" x2="274.03" y2="282.48" stroke="#181c64" stroke-width="1.5"/>
<line x1="269.23" y1="272.34" x2="274.03" y2="272.34" stroke="#181c64" stroke-width="1.5"/>
<line x1="307.00" y1="293.23" x2="307.00" y2="286.54" stroke="#181c64" stroke-width="1.6"/>
<line x1="304.60" y1="293.23" x2="309.40" y2="293.23" stroke="#181c64" stroke-width="1.5"/>
<line x1="304.60" y1="286.54" x2="309.40" y2="286.54" stroke="#181c64" stroke-width="1.5"/>
<circle cx="200.90" cy="232.19" r="2.9" fill="#181c64"/>
<circle cx="236.27" cy="273.76" r="2.9" fill="#181c64"/>
<circle cx="271.63" cy="277.82" r="2.9" fill="#181c64"/>
<circle cx="307.00" cy="289.99" r="2.9" fill="#181c64"/>
<polyline points="200.90,231.18 236.27,215.97 271.63,220.63 307.00,225.50" fill="none" stroke="#bd1f30" stroke-width="1.7" stroke-linejoin="round"/>
<line x1="200.90" y1="236.25" x2="200.90" y2="227.12" stroke="#bd1f30" stroke-width="1.6"/>
<line x1="198.50" y1="236.25" x2="203.30" y2="236.25" stroke="#bd1f30" stroke-width="1.5"/>
<line x1="198.50" y1="227.12" x2="203.30" y2="227.12" stroke="#bd1f30" stroke-width="1.5"/>
<line x1="236.27" y1="233.41" x2="236.27" y2="198.73" stroke="#bd1f30" stroke-width="1.6"/>
<line x1="233.87" y1="233.41" x2="238.67" y2="233.41" stroke="#bd1f30" stroke-width="1.5"/>
<line x1="233.87" y1="198.73" x2="238.67" y2="198.73" stroke="#bd1f30" stroke-width="1.5"/>
<line x1="271.63" y1="231.18" x2="271.63" y2="210.29" stroke="#bd1f30" stroke-width="1.6"/>
<line x1="269.23" y1="231.18" x2="274.03" y2="231.18" stroke="#bd1f30" stroke-width="1.5"/>
<line x1="269.23" y1="210.29" x2="274.03" y2="210.29" stroke="#bd1f30" stroke-width="1.5"/>
<line x1="307.00" y1="235.23" x2="307.00" y2="215.97" stroke="#bd1f30" stroke-width="1.6"/>
<line x1="304.60" y1="235.23" x2="309.40" y2="235.23" stroke="#bd1f30" stroke-width="1.5"/>
<line x1="304.60" y1="215.97" x2="309.40" y2="215.97" stroke="#bd1f30" stroke-width="1.5"/>
<rect x="198.20" y="228.48" width="5.4" height="5.4" fill="#bd1f30"/>
<rect x="233.57" y="213.27" width="5.4" height="5.4" fill="#bd1f30"/>
<rect x="268.93" y="217.93" width="5.4" height="5.4" fill="#bd1f30"/>
<rect x="304.30" y="222.80" width="5.4" height="5.4" fill="#bd1f30"/>
<polygon points="271.90,264.30 272.72,266.27 274.85,266.44 273.23,267.83 273.72,269.91 271.90,268.80 270.08,269.91 270.57,267.83 268.95,266.44 271.08,266.27" fill="#111"/>
<polygon points="304.95,278.30 305.77,280.27 307.90,280.44 306.28,281.83 306.77,283.91 304.95,282.80 303.13,283.91 303.62,281.83 302.00,280.44 304.13,280.27" fill="#111"/>
<polygon points="311.05,278.30 311.87,280.27 314.00,280.44 312.38,281.83 312.87,283.91 311.05,282.80 309.23,283.91 309.72,281.83 308.10,280.44 310.23,280.27" fill="#111"/>
<text x="261.50" y="326.40" font-size="13" text-anchor="middle" fill="#111" stroke="#111">sTNF-α (ng)</text>
<text transform="translate(179.50,243.30) rotate(-90)" font-size="13" text-anchor="middle" fill="#111" stroke="#111">CDC (%)</text>
<line x1="205.50" y1="179.60" x2="214.70" y2="179.60" stroke="#181c64" stroke-width="1.6"/>
<circle cx="210.1" cy="179.6" r="3.6" fill="#181c64"/>
<line x1="205.50" y1="190.80" x2="214.70" y2="190.80" stroke="#bd1f30" stroke-width="1.6"/>
<rect x="207.2" y="187.9" width="5.8" height="5.8" fill="#bd1f30"/>
<text x="217.90" y="182.90" font-size="12.4" text-anchor="start" fill="#111" stroke="#111">Infliximab</text>
<text x="218.20" y="194.60" font-size="12.4" text-anchor="start" fill="#111" stroke="#111">C1</text>
<line x1="199.60" y1="484.40" x2="199.60" y2="383.10" stroke="#111" stroke-width="1.6"/>
<line x1="198.80" y1="483.60" x2="307.40" y2="483.60" stroke="#111" stroke-width="1.6"/>
<line x1="197.00" y1="483.60" x2="199.60" y2="483.60" stroke="#111" stroke-width="1.3"/>
<text x="196.00" y="488.10" font-size="10.8" text-anchor="end" fill="#111" stroke="#111">0</text>
<line x1="197.00" y1="458.62" x2="199.60" y2="458.62" stroke="#111" stroke-width="1.3"/>
<text x="196.00" y="463.12" font-size="10.8" text-anchor="end" fill="#111" stroke="#111">20</text>
<line x1="197.00" y1="433.65" x2="199.60" y2="433.65" stroke="#111" stroke-width="1.3"/>
<text x="196.00" y="438.15" font-size="10.8" text-anchor="end" fill="#111" stroke="#111">40</text>
<line x1="197.00" y1="408.68" x2="199.60" y2="408.68" stroke="#111" stroke-width="1.3"/>
<text x="196.00" y="413.18" font-size="10.8" text-anchor="end" fill="#111" stroke="#111">60</text>
<line x1="197.00" y1="383.70" x2="199.60" y2="383.70" stroke="#111" stroke-width="1.3"/>
<text x="196.00" y="388.20" font-size="10.8" text-anchor="end" fill="#111" stroke="#111">80</text>
<line x1="199.60" y1="483.60" x2="199.60" y2="486.90" stroke="#111" stroke-width="1.3"/>
<text x="199.60" y="496.40" font-size="10.8" text-anchor="middle" fill="#111" stroke="#111">0</text>
<line x1="235.27" y1="483.60" x2="235.27" y2="486.90" stroke="#111" stroke-width="1.3"/>
<text x="235.27" y="496.40" font-size="10.8" text-anchor="middle" fill="#111" stroke="#111">100</text>
<line x1="270.93" y1="483.60" x2="270.93" y2="486.90" stroke="#111" stroke-width="1.3"/>
<text x="270.93" y="496.40" font-size="10.8" text-anchor="middle" fill="#111" stroke="#111">200</text>
<line x1="306.60" y1="483.60" x2="306.60" y2="486.90" stroke="#111" stroke-width="1.3"/>
<text x="306.60" y="496.40" font-size="10.8" text-anchor="middle" fill="#111" stroke="#111">300</text>
<line x1="199.60" y1="406.18" x2="199.60" y2="392.44" stroke="#bd1f30" stroke-width="1.6"/>
<polyline points="199.60,388.69 235.27,429.90 270.93,443.64 306.60,456.75" fill="none" stroke="#181c64" stroke-width="1.7" stroke-linejoin="round"/>
<line x1="235.27" y1="443.89" x2="235.27" y2="415.54" stroke="#181c64" stroke-width="1.6"/>
<line x1="232.87" y1="443.89" x2="237.67" y2="443.89" stroke="#181c64" stroke-width="1.5"/>
<line x1="232.87" y1="415.54" x2="237.67" y2="415.54" stroke="#181c64" stroke-width="1.5"/>
<line x1="270.93" y1="458.25" x2="270.93" y2="428.03" stroke="#181c64" stroke-width="1.6"/>
<line x1="268.53" y1="458.25" x2="273.33" y2="458.25" stroke="#181c64" stroke-width="1.5"/>
<line x1="268.53" y1="428.03" x2="273.33" y2="428.03" stroke="#181c64" stroke-width="1.5"/>
<line x1="306.60" y1="458.62" x2="306.60" y2="454.88" stroke="#181c64" stroke-width="1.6"/>
<line x1="304.20" y1="458.62" x2="309.00" y2="458.62" stroke="#181c64" stroke-width="1.5"/>
<line x1="304.20" y1="454.88" x2="309.00" y2="454.88" stroke="#181c64" stroke-width="1.5"/>
<circle cx="199.60" cy="388.69" r="2.9" fill="#181c64"/>
<circle cx="235.27" cy="429.90" r="2.9" fill="#181c64"/>
<circle cx="270.93" cy="443.64" r="2.9" fill="#181c64"/>
<circle cx="306.60" cy="456.75" r="2.9" fill="#181c64"/>
<polyline points="199.60,392.44 235.27,383.70 270.93,398.69 306.60,396.19" fill="none" stroke="#bd1f30" stroke-width="1.7" stroke-linejoin="round"/>
<line x1="235.27" y1="385.57" x2="235.27" y2="381.83" stroke="#bd1f30" stroke-width="1.6"/>
<line x1="232.87" y1="385.57" x2="237.67" y2="385.57" stroke="#bd1f30" stroke-width="1.5"/>
<line x1="232.87" y1="381.83" x2="237.67" y2="381.83" stroke="#bd1f30" stroke-width="1.5"/>
<line x1="270.93" y1="401.18" x2="270.93" y2="396.19" stroke="#bd1f30" stroke-width="1.6"/>
<line x1="268.53" y1="401.18" x2="273.33" y2="401.18" stroke="#bd1f30" stroke-width="1.5"/>
<line x1="268.53" y1="396.19" x2="273.33" y2="396.19" stroke="#bd1f30" stroke-width="1.5"/>
<line x1="306.60" y1="398.69" x2="306.60" y2="393.69" stroke="#bd1f30" stroke-width="1.6"/>
<line x1="304.20" y1="398.69" x2="309.00" y2="398.69" stroke="#bd1f30" stroke-width="1.5"/>
<line x1="304.20" y1="393.69" x2="309.00" y2="393.69" stroke="#bd1f30" stroke-width="1.5"/>
<polygon points="199.60,389.04 202.90,394.84 196.30,394.84" fill="#bd1f30"/>
<polygon points="235.27,380.30 238.57,386.10 231.97,386.10" fill="#bd1f30"/>
<polygon points="270.93,395.29 274.23,401.08 267.63,401.08" fill="#bd1f30"/>
<polygon points="306.60,392.79 309.90,398.59 303.30,398.59" fill="#bd1f30"/>
<polygon points="270.80,418.50 271.62,420.47 273.75,420.64 272.13,422.03 272.62,424.11 270.80,423.00 268.98,424.11 269.47,422.03 267.85,420.64 269.98,420.47" fill="#111"/>
<polygon points="303.55,446.20 304.37,448.17 306.50,448.34 304.88,449.73 305.37,451.81 303.55,450.69 301.73,451.81 302.22,449.73 300.60,448.34 302.73,448.17" fill="#111"/>
<polygon points="309.65,446.20 310.47,448.17 312.60,448.34 310.98,449.73 311.47,451.81 309.65,450.69 307.83,451.81 308.32,449.73 306.70,448.34 308.83,448.17" fill="#111"/>
<text x="259.70" y="508.70" font-size="13" text-anchor="middle" fill="#111" stroke="#111">sTNF-α (ng)</text>
<text transform="translate(180.60,433.00) rotate(-90)" font-size="13" text-anchor="middle" fill="#111" stroke="#111">ADCC (%)</text>
<line x1="207.50" y1="361.10" x2="216.70" y2="361.10" stroke="#181c64" stroke-width="1.6"/>
<circle cx="212.1" cy="361.1" r="3.6" fill="#181c64"/>
<line x1="207.50" y1="372.00" x2="216.70" y2="372.00" stroke="#bd1f30" stroke-width="1.6"/>
<rect x="209.2" y="369.1" width="5.8" height="5.8" fill="#bd1f30"/>
<text x="222.80" y="364.00" font-size="12.6" text-anchor="start" fill="#111" stroke="#111">Infliximab</text>
<text x="222.80" y="375.50" font-size="12.6" text-anchor="start" fill="#111" stroke="#111">C1</text>
<line x1="359.40" y1="273.10" x2="359.40" y2="181.30" stroke="#111" stroke-width="1.6"/>
<line x1="356.40" y1="272.30" x2="359.40" y2="272.30" stroke="#111" stroke-width="1.4"/>
<text x="354.80" y="277.90" font-size="12.3" text-anchor="end" fill="#111" stroke="#111">0</text>
<line x1="356.40" y1="242.17" x2="359.40" y2="242.17" stroke="#111" stroke-width="1.4"/>
<text x="354.80" y="247.77" font-size="12.3" text-anchor="end" fill="#111" stroke="#111">20</text>
<line x1="356.40" y1="212.03" x2="359.40" y2="212.03" stroke="#111" stroke-width="1.4"/>
<text x="354.80" y="217.63" font-size="12.3" text-anchor="end" fill="#111" stroke="#111">40</text>
<line x1="356.40" y1="181.90" x2="359.40" y2="181.90" stroke="#111" stroke-width="1.4"/>
<text x="354.80" y="187.50" font-size="12.3" text-anchor="end" fill="#111" stroke="#111">60</text>
<rect x="380.65" y="244.15" width="8.20" height="28.00" fill="#fff" stroke="#bd1f30" stroke-width="1.9"/>
<rect x="394.65" y="253.95" width="8.40" height="18.20" fill="#fff" stroke="#2b3760" stroke-width="1.9"/>
<rect x="418.65" y="222.15" width="7.80" height="50.00" fill="#fff" stroke="#111" stroke-width="1.9"/>
<rect x="432.75" y="204.15" width="8.00" height="68.00" fill="#fff" stroke="#bd1f30" stroke-width="1.9"/>
<line x1="450.60" y1="218.60" x2="450.60" y2="216.00" stroke="#2b3760" stroke-width="1.5"/>
<line x1="448.10" y1="216.00" x2="453.10" y2="216.00" stroke="#2b3760" stroke-width="1.5"/>
<rect x="446.55" y="219.55" width="8.10" height="52.60" fill="#fff" stroke="#2b3760" stroke-width="1.9"/>
<rect x="470.45" y="212.15" width="7.30" height="60.00" fill="#fff" stroke="#111" stroke-width="1.9"/>
<rect x="484.35" y="190.65" width="7.70" height="81.50" fill="#fff" stroke="#bd1f30" stroke-width="1.9"/>
<line x1="502.10" y1="215.50" x2="502.10" y2="213.40" stroke="#2b3760" stroke-width="1.5"/>
<line x1="499.60" y1="213.40" x2="504.60" y2="213.40" stroke="#2b3760" stroke-width="1.5"/>
<rect x="498.25" y="216.45" width="7.70" height="55.70" fill="#fff" stroke="#2b3760" stroke-width="1.9"/>
<line x1="358.60" y1="272.30" x2="514.40" y2="272.30" stroke="#111" stroke-width="1.7"/>
<polyline points="386.50,239.30 386.50,233.50 399.20,233.50 399.20,239.30" fill="none" stroke="#111" stroke-width="1.6" stroke-linejoin="round" stroke-linejoin="miter"/>
<polyline points="421.00,199.80 421.00,194.00 436.40,194.00 436.40,199.80" fill="none" stroke="#111" stroke-width="1.6" stroke-linejoin="round" stroke-linejoin="miter"/>
<polyline points="436.40,200.60 436.40,196.30 453.00,196.30 453.00,200.60" fill="none" stroke="#111" stroke-width="1.6" stroke-linejoin="round" stroke-linejoin="miter"/>
<polyline points="472.10,188.20 472.10,182.40 488.10,182.40 488.10,188.20" fill="none" stroke="#111" stroke-width="1.6" stroke-linejoin="round" stroke-linejoin="miter"/>
<polyline points="488.10,188.20 488.10,182.80 503.70,182.80 503.70,188.20" fill="none" stroke="#111" stroke-width="1.6" stroke-linejoin="round" stroke-linejoin="miter"/>
<polygon points="392.60,225.80 393.42,227.77 395.55,227.94 393.93,229.33 394.42,231.41 392.60,230.30 390.78,231.41 391.27,229.33 389.65,227.94 391.78,227.77" fill="#111"/>
<polygon points="425.55,187.90 426.37,189.87 428.50,190.04 426.88,191.43 427.37,193.51 425.55,192.40 423.73,193.51 424.22,191.43 422.60,190.04 424.73,189.87" fill="#111"/>
<polygon points="431.65,187.90 432.47,189.87 434.60,190.04 432.98,191.43 433.47,193.51 431.65,192.40 429.83,193.51 430.32,191.43 428.70,190.04 430.83,189.87" fill="#111"/>
<polygon points="442.45,188.60 443.27,190.57 445.40,190.74 443.78,192.13 444.27,194.21 442.45,193.10 440.63,194.21 441.12,192.13 439.50,190.74 441.63,190.57" fill="#111"/>
<polygon points="448.55,188.60 449.37,190.57 451.50,190.74 449.88,192.13 450.37,194.21 448.55,193.10 446.73,194.21 447.22,192.13 445.60,190.74 447.73,190.57" fill="#111"/>
<polygon points="478.15,175.30 478.97,177.27 481.10,177.44 479.48,178.83 479.97,180.91 478.15,179.80 476.33,180.91 476.82,178.83 475.20,177.44 477.33,177.27" fill="#111"/>
<polygon points="484.25,175.30 485.07,177.27 487.20,177.44 485.58,178.83 486.07,180.91 484.25,179.80 482.43,180.91 482.92,178.83 481.30,177.44 483.43,177.27" fill="#111"/>
<polygon points="493.45,176.20 494.27,178.17 496.40,178.34 494.78,179.73 495.27,181.81 493.45,180.70 491.63,181.81 492.12,179.73 490.50,178.34 492.63,178.17" fill="#111"/>
<polygon points="499.55,176.20 500.37,178.17 502.50,178.34 500.88,179.73 501.37,181.81 499.55,180.70 497.73,181.81 498.22,179.73 496.60,178.34 498.73,178.17" fill="#111"/>
<text x="361.70" y="178.00" font-size="12.6" text-anchor="start" fill="#111" stroke="#111">Sample1</text>
<text transform="translate(336.30,231.30) rotate(-90)" font-size="12.5" text-anchor="middle" fill="#111" stroke="#111">Apoptosis rate (%)</text>
<text x="370.80" y="287.50" font-size="12.9" text-anchor="end" fill="#111" stroke="#111">IgG1</text>
<line x1="382.65" y1="286.20" x2="386.85" y2="286.20" stroke="#111" stroke-width="1.4"/>
<line x1="395.75" y1="285.20" x2="401.95" y2="285.20" stroke="#111" stroke-width="1.4"/>
<line x1="398.85" y1="282.20" x2="398.85" y2="288.20" stroke="#111" stroke-width="1.4"/>
<line x1="420.45" y1="286.20" x2="424.65" y2="286.20" stroke="#111" stroke-width="1.4"/>
<line x1="434.65" y1="286.20" x2="438.85" y2="286.20" stroke="#111" stroke-width="1.4"/>
<line x1="447.50" y1="285.20" x2="453.70" y2="285.20" stroke="#111" stroke-width="1.4"/>
<line x1="450.60" y1="282.20" x2="450.60" y2="288.20" stroke="#111" stroke-width="1.4"/>
<line x1="472.00" y1="286.20" x2="476.20" y2="286.20" stroke="#111" stroke-width="1.4"/>
<line x1="486.10" y1="286.20" x2="490.30" y2="286.20" stroke="#111" stroke-width="1.4"/>
<line x1="499.00" y1="285.20" x2="505.20" y2="285.20" stroke="#111" stroke-width="1.4"/>
<line x1="502.10" y1="282.20" x2="502.10" y2="288.20" stroke="#111" stroke-width="1.4"/>
<text x="370.80" y="300.40" font-size="12.9" text-anchor="end" fill="#111" stroke="#111">C1</text>
<line x1="381.65" y1="296.60" x2="387.85" y2="296.60" stroke="#111" stroke-width="1.4"/>
<line x1="384.75" y1="293.60" x2="384.75" y2="299.60" stroke="#111" stroke-width="1.4"/>
<line x1="396.75" y1="297.60" x2="400.95" y2="297.60" stroke="#111" stroke-width="1.4"/>
<line x1="420.45" y1="297.60" x2="424.65" y2="297.60" stroke="#111" stroke-width="1.4"/>
<line x1="433.65" y1="296.60" x2="439.85" y2="296.60" stroke="#111" stroke-width="1.4"/>
<line x1="436.75" y1="293.60" x2="436.75" y2="299.60" stroke="#111" stroke-width="1.4"/>
<line x1="448.50" y1="297.60" x2="452.70" y2="297.60" stroke="#111" stroke-width="1.4"/>
<line x1="472.00" y1="297.60" x2="476.20" y2="297.60" stroke="#111" stroke-width="1.4"/>
<line x1="485.10" y1="296.60" x2="491.30" y2="296.60" stroke="#111" stroke-width="1.4"/>
<line x1="488.20" y1="293.60" x2="488.20" y2="299.60" stroke="#111" stroke-width="1.4"/>
<line x1="500.00" y1="297.60" x2="504.20" y2="297.60" stroke="#111" stroke-width="1.4"/>
<text x="370.80" y="313.70" font-size="12.9" text-anchor="end" fill="#111" stroke="#111">Ara-C</text>
<line x1="382.65" y1="311.00" x2="386.85" y2="311.00" stroke="#111" stroke-width="1.4"/>
<line x1="396.75" y1="311.00" x2="400.95" y2="311.00" stroke="#111" stroke-width="1.4"/>
<line x1="419.45" y1="310.00" x2="425.65" y2="310.00" stroke="#111" stroke-width="1.4"/>
<line x1="422.55" y1="307.00" x2="422.55" y2="313.00" stroke="#111" stroke-width="1.4"/>
<line x1="433.65" y1="310.00" x2="439.85" y2="310.00" stroke="#111" stroke-width="1.4"/>
<line x1="436.75" y1="307.00" x2="436.75" y2="313.00" stroke="#111" stroke-width="1.4"/>
<line x1="447.50" y1="310.00" x2="453.70" y2="310.00" stroke="#111" stroke-width="1.4"/>
<line x1="450.60" y1="307.00" x2="450.60" y2="313.00" stroke="#111" stroke-width="1.4"/>
<line x1="472.00" y1="311.00" x2="476.20" y2="311.00" stroke="#111" stroke-width="1.4"/>
<line x1="486.10" y1="311.00" x2="490.30" y2="311.00" stroke="#111" stroke-width="1.4"/>
<line x1="500.00" y1="311.00" x2="504.20" y2="311.00" stroke="#111" stroke-width="1.4"/>
<text x="370.80" y="326.50" font-size="12.9" text-anchor="end" fill="#111" stroke="#111">DNR</text>
<line x1="382.65" y1="323.00" x2="386.85" y2="323.00" stroke="#111" stroke-width="1.4"/>
<line x1="396.75" y1="323.00" x2="400.95" y2="323.00" stroke="#111" stroke-width="1.4"/>
<line x1="420.45" y1="323.00" x2="424.65" y2="323.00" stroke="#111" stroke-width="1.4"/>
<line x1="434.65" y1="323.00" x2="438.85" y2="323.00" stroke="#111" stroke-width="1.4"/>
<line x1="448.50" y1="323.00" x2="452.70" y2="323.00" stroke="#111" stroke-width="1.4"/>
<line x1="471.00" y1="322.00" x2="477.20" y2="322.00" stroke="#111" stroke-width="1.4"/>
<line x1="474.10" y1="319.00" x2="474.10" y2="325.00" stroke="#111" stroke-width="1.4"/>
<line x1="485.10" y1="322.00" x2="491.30" y2="322.00" stroke="#111" stroke-width="1.4"/>
<line x1="488.20" y1="319.00" x2="488.20" y2="325.00" stroke="#111" stroke-width="1.4"/>
<line x1="499.00" y1="322.00" x2="505.20" y2="322.00" stroke="#111" stroke-width="1.4"/>
<line x1="502.10" y1="319.00" x2="502.10" y2="325.00" stroke="#111" stroke-width="1.4"/>
<line x1="358.80" y1="454.70" x2="358.80" y2="362.90" stroke="#111" stroke-width="1.6"/>
<line x1="355.80" y1="453.90" x2="358.80" y2="453.90" stroke="#111" stroke-width="1.4"/>
<text x="354.20" y="459.50" font-size="12.3" text-anchor="end" fill="#111" stroke="#111">0</text>
<line x1="355.80" y1="423.77" x2="358.80" y2="423.77" stroke="#111" stroke-width="1.4"/>
<text x="354.20" y="429.37" font-size="12.3" text-anchor="end" fill="#111" stroke="#111">20</text>
<line x1="355.80" y1="393.63" x2="358.80" y2="393.63" stroke="#111" stroke-width="1.4"/>
<text x="354.20" y="399.23" font-size="12.3" text-anchor="end" fill="#111" stroke="#111">40</text>
<line x1="355.80" y1="363.50" x2="358.80" y2="363.50" stroke="#111" stroke-width="1.4"/>
<text x="354.20" y="369.10" font-size="12.3" text-anchor="end" fill="#111" stroke="#111">60</text>
<rect x="381.05" y="407.75" width="7.60" height="46.00" fill="#fff" stroke="#bd1f30" stroke-width="1.9"/>
<line x1="398.70" y1="431.30" x2="398.70" y2="427.30" stroke="#203a74" stroke-width="1.5"/>
<line x1="396.20" y1="427.30" x2="401.20" y2="427.30" stroke="#203a74" stroke-width="1.5"/>
<rect x="394.65" y="432.25" width="8.10" height="21.50" fill="#fff" stroke="#203a74" stroke-width="1.9"/>
<rect x="418.55" y="399.45" width="7.60" height="54.30" fill="#fff" stroke="#111" stroke-width="1.9"/>
<line x1="436.15" y1="375.40" x2="436.15" y2="374.00" stroke="#bd1f30" stroke-width="1.5"/>
<line x1="433.65" y1="374.00" x2="438.65" y2="374.00" stroke="#bd1f30" stroke-width="1.5"/>
<rect x="432.05" y="376.35" width="8.20" height="77.40" fill="#fff" stroke="#bd1f30" stroke-width="1.9"/>
<line x1="450.65" y1="412.00" x2="450.65" y2="411.00" stroke="#203a74" stroke-width="1.5"/>
<line x1="448.15" y1="411.00" x2="453.15" y2="411.00" stroke="#203a74" stroke-width="1.5"/>
<rect x="446.55" y="412.95" width="8.20" height="40.80" fill="#fff" stroke="#203a74" stroke-width="1.9"/>
<rect x="469.85" y="397.05" width="7.90" height="56.70" fill="#fff" stroke="#111" stroke-width="1.9"/>
<line x1="488.15" y1="371.60" x2="488.15" y2="370.50" stroke="#bd1f30" stroke-width="1.5"/>
<line x1="485.65" y1="370.50" x2="490.65" y2="370.50" stroke="#bd1f30" stroke-width="1.5"/>
<rect x="484.05" y="372.55" width="8.20" height="81.20" fill="#fff" stroke="#bd1f30" stroke-width="1.9"/>
<line x1="502.25" y1="399.60" x2="502.25" y2="398.80" stroke="#203a74" stroke-width="1.5"/>
<line x1="499.75" y1="398.80" x2="504.75" y2="398.80" stroke="#203a74" stroke-width="1.5"/>
<rect x="498.45" y="400.55" width="7.60" height="53.20" fill="#fff" stroke="#203a74" stroke-width="1.9"/>
<line x1="358.00" y1="453.90" x2="514.40" y2="453.90" stroke="#111" stroke-width="1.7"/>
<polyline points="385.90,403.40 385.90,397.60 398.80,397.60 398.80,403.40" fill="none" stroke="#111" stroke-width="1.6" stroke-linejoin="round" stroke-linejoin="miter"/>
<polyline points="421.00,371.60 421.00,365.90 436.30,365.90 436.30,371.60" fill="none" stroke="#111" stroke-width="1.6" stroke-linejoin="round" stroke-linejoin="miter"/>
<polyline points="436.30,373.00 436.30,367.90 453.60,367.90 453.60,373.00" fill="none" stroke="#111" stroke-width="1.6" stroke-linejoin="round" stroke-linejoin="miter"/>
<polyline points="471.50,369.60 471.50,362.10 487.70,362.10 487.70,369.60" fill="none" stroke="#111" stroke-width="1.6" stroke-linejoin="round" stroke-linejoin="miter"/>
<polyline points="487.70,369.00 487.70,363.00 503.30,363.00 503.30,369.00" fill="none" stroke="#111" stroke-width="1.6" stroke-linejoin="round" stroke-linejoin="miter"/>
<polygon points="392.40,389.90 393.22,391.87 395.35,392.04 393.73,393.43 394.22,395.51 392.40,394.39 390.58,395.51 391.07,393.43 389.45,392.04 391.58,391.87" fill="#111"/>
<polygon points="425.55,358.70 426.37,360.67 428.50,360.84 426.88,362.23 427.37,364.31 425.55,363.19 423.73,364.31 424.22,362.23 422.60,360.84 424.73,360.67" fill="#111"/>
<polygon points="431.65,358.70 432.47,360.67 434.60,360.84 432.98,362.23 433.47,364.31 431.65,363.19 429.83,364.31 430.32,362.23 428.70,360.84 430.83,360.67" fill="#111"/>
<polygon points="441.95,359.70 442.77,361.67 444.90,361.84 443.28,363.23 443.77,365.31 441.95,364.19 440.13,365.31 440.62,363.23 439.00,361.84 441.13,361.67" fill="#111"/>
<polygon points="448.05,359.70 448.87,361.67 451.00,361.84 449.38,363.23 449.87,365.31 448.05,364.19 446.23,365.31 446.72,363.23 445.10,361.84 447.23,361.67" fill="#111"/>
<polygon points="476.55,355.30 477.37,357.27 479.50,357.44 477.88,358.83 478.37,360.91 476.55,359.80 474.73,360.91 475.22,358.83 473.60,357.44 475.73,357.27" fill="#111"/>
<polygon points="482.65,355.30 483.47,357.27 485.60,357.44 483.98,358.83 484.47,360.91 482.65,359.80 480.83,360.91 481.32,358.83 479.70,357.44 481.83,357.27" fill="#111"/>
<polygon points="492.45,356.20 493.27,358.17 495.40,358.34 493.78,359.73 494.27,361.81 492.45,360.69 490.63,361.81 491.12,359.73 489.50,358.34 491.63,358.17" fill="#111"/>
<polygon points="498.55,356.20 499.37,358.17 501.50,358.34 499.88,359.73 500.37,361.81 498.55,360.69 496.73,361.81 497.22,359.73 495.60,358.34 497.73,358.17" fill="#111"/>
<text x="361.70" y="359.60" font-size="12.6" text-anchor="start" fill="#111" stroke="#111">Sample2</text>
<text transform="translate(336.30,410.50) rotate(-90)" font-size="12.5" text-anchor="middle" fill="#111" stroke="#111">Apoptosis rate (%)</text>
<text x="370.80" y="469.20" font-size="12.9" text-anchor="end" fill="#111" stroke="#111">IgG1</text>
<line x1="382.75" y1="467.70" x2="386.95" y2="467.70" stroke="#111" stroke-width="1.4"/>
<line x1="395.60" y1="466.70" x2="401.80" y2="466.70" stroke="#111" stroke-width="1.4"/>
<line x1="398.70" y1="463.70" x2="398.70" y2="469.70" stroke="#111" stroke-width="1.4"/>
<line x1="420.25" y1="467.70" x2="424.45" y2="467.70" stroke="#111" stroke-width="1.4"/>
<line x1="434.05" y1="467.70" x2="438.25" y2="467.70" stroke="#111" stroke-width="1.4"/>
<line x1="447.55" y1="466.70" x2="453.75" y2="466.70" stroke="#111" stroke-width="1.4"/>
<line x1="450.65" y1="463.70" x2="450.65" y2="469.70" stroke="#111" stroke-width="1.4"/>
<line x1="471.70" y1="467.70" x2="475.90" y2="467.70" stroke="#111" stroke-width="1.4"/>
<line x1="486.05" y1="467.70" x2="490.25" y2="467.70" stroke="#111" stroke-width="1.4"/>
<line x1="499.15" y1="466.70" x2="505.35" y2="466.70" stroke="#111" stroke-width="1.4"/>
<line x1="502.25" y1="463.70" x2="502.25" y2="469.70" stroke="#111" stroke-width="1.4"/>
<text x="370.80" y="482.00" font-size="12.9" text-anchor="end" fill="#111" stroke="#111">C1</text>
<line x1="381.75" y1="477.80" x2="387.95" y2="477.80" stroke="#111" stroke-width="1.4"/>
<line x1="384.85" y1="474.80" x2="384.85" y2="480.80" stroke="#111" stroke-width="1.4"/>
<line x1="396.60" y1="478.80" x2="400.80" y2="478.80" stroke="#111" stroke-width="1.4"/>
<line x1="420.25" y1="478.80" x2="424.45" y2="478.80" stroke="#111" stroke-width="1.4"/>
<line x1="433.05" y1="477.80" x2="439.25" y2="477.80" stroke="#111" stroke-width="1.4"/>
<line x1="436.15" y1="474.80" x2="436.15" y2="480.80" stroke="#111" stroke-width="1.4"/>
<line x1="448.55" y1="478.80" x2="452.75" y2="478.80" stroke="#111" stroke-width="1.4"/>
<line x1="471.70" y1="478.80" x2="475.90" y2="478.80" stroke="#111" stroke-width="1.4"/>
<line x1="485.05" y1="477.80" x2="491.25" y2="477.80" stroke="#111" stroke-width="1.4"/>
<line x1="488.15" y1="474.80" x2="488.15" y2="480.80" stroke="#111" stroke-width="1.4"/>
<line x1="500.15" y1="478.80" x2="504.35" y2="478.80" stroke="#111" stroke-width="1.4"/>
<text x="370.80" y="495.30" font-size="12.9" text-anchor="end" fill="#111" stroke="#111">Ara-C</text>
<line x1="382.75" y1="492.50" x2="386.95" y2="492.50" stroke="#111" stroke-width="1.4"/>
<line x1="396.60" y1="492.50" x2="400.80" y2="492.50" stroke="#111" stroke-width="1.4"/>
<line x1="419.25" y1="491.50" x2="425.45" y2="491.50" stroke="#111" stroke-width="1.4"/>
<line x1="422.35" y1="488.50" x2="422.35" y2="494.50" stroke="#111" stroke-width="1.4"/>
<line x1="433.05" y1="491.50" x2="439.25" y2="491.50" stroke="#111" stroke-width="1.4"/>
<line x1="436.15" y1="488.50" x2="436.15" y2="494.50" stroke="#111" stroke-width="1.4"/>
<line x1="447.55" y1="491.50" x2="453.75" y2="491.50" stroke="#111" stroke-width="1.4"/>
<line x1="450.65" y1="488.50" x2="450.65" y2="494.50" stroke="#111" stroke-width="1.4"/>
<line x1="471.70" y1="492.50" x2="475.90" y2="492.50" stroke="#111" stroke-width="1.4"/>
<line x1="486.05" y1="492.50" x2="490.25" y2="492.50" stroke="#111" stroke-width="1.4"/>
<line x1="500.15" y1="492.50" x2="504.35" y2="492.50" stroke="#111" stroke-width="1.4"/>
<text x="370.80" y="508.30" font-size="12.9" text-anchor="end" fill="#111" stroke="#111">DNR</text>
<line x1="382.75" y1="504.50" x2="386.95" y2="504.50" stroke="#111" stroke-width="1.4"/>
<line x1="396.60" y1="504.50" x2="400.80" y2="504.50" stroke="#111" stroke-width="1.4"/>
<line x1="420.25" y1="504.50" x2="424.45" y2="504.50" stroke="#111" stroke-width="1.4"/>
<line x1="434.05" y1="504.50" x2="438.25" y2="504.50" stroke="#111" stroke-width="1.4"/>
<line x1="448.55" y1="504.50" x2="452.75" y2="504.50" stroke="#111" stroke-width="1.4"/>
<line x1="470.70" y1="503.50" x2="476.90" y2="503.50" stroke="#111" stroke-width="1.4"/>
<line x1="473.80" y1="500.50" x2="473.80" y2="506.50" stroke="#111" stroke-width="1.4"/>
<line x1="485.05" y1="503.50" x2="491.25" y2="503.50" stroke="#111" stroke-width="1.4"/>
<line x1="488.15" y1="500.50" x2="488.15" y2="506.50" stroke="#111" stroke-width="1.4"/>
<line x1="499.15" y1="503.50" x2="505.35" y2="503.50" stroke="#111" stroke-width="1.4"/>
<line x1="502.25" y1="500.50" x2="502.25" y2="506.50" stroke="#111" stroke-width="1.4"/>
</svg>
</body></html>
